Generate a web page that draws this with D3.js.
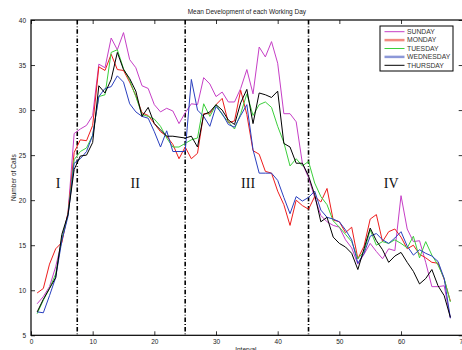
<!DOCTYPE html>
<html>
<head>
<meta charset="utf-8">
<script src="https://cdn.jsdelivr.net/npm/d3@7"></script>
<style>
  body { margin: 0; background: #fff; }
  svg text { font-family: "Liberation Sans", Arial, sans-serif; fill: #222; }
</style>
</head>
<body>
<div id="chart"></div>
<script>
// values, interval 1..68
const intervals = d3.range(1, 69);

const sunday = [8.5, 9.3, 10.4, 12.6, 15.5, 18.6, 27.4, 27.9, 28.3, 29.4, 35.1, 34.7, 38.0, 36.7, 38.6, 35.6, 34.7, 32.7, 32.4, 30.6,
  29.8, 30.2, 29.9, 28.5, 29.7, 30.7, 30.6, 33.6, 32.9, 31.5, 32.0, 30.9, 30.9, 32.4, 34.5, 31.8, 37.0, 35.9, 37.6, 35.2,
  29.6, 29.6, 28.7, 24.1, 22.5, 20.3, 18.3, 17.6, 17.2, 17.0, 15.6, 14.7, 12.9, 14.0, 15.2, 14.3, 13.5, 14.6, 14.4, 20.5,
  16.8, 15.4, 15.5, 13.1, 10.4, 10.4, 10.5, 6.9];

const monday = [9.7, 10.2, 12.9, 14.6, 15.3, 18.6, 25.3, 26.7, 26.6, 28.3, 34.8, 34.4, 36.2, 34.5, 34.4, 33.1, 31.6, 29.7, 29.4, 28.5,
  27.6, 27.1, 26.2, 24.6, 25.9, 24.6, 25.2, 29.6, 29.6, 30.6, 31.3, 28.6, 28.8, 32.2, 29.5, 25.5, 25.1, 23.2, 23.0, 21.0,
  19.5, 17.2, 20.0, 19.4, 19.0, 20.4, 19.8, 21.3, 17.8, 17.6, 16.4, 17.0, 13.5, 14.9, 17.9, 18.4, 15.4, 16.5, 16.8, 15.9,
  14.6, 15.0, 14.0, 13.6, 13.1, 13.0, 11.2, 8.8];

const tuesday = [7.4, 8.9, 10.2, 11.8, 15.7, 18.4, 24.5, 25.4, 25.8, 27.2, 31.5, 31.7, 36.4, 36.7, 34.6, 33.3, 31.5, 29.5, 29.3, 29.0,
  28.2, 26.9, 25.9, 25.9, 26.3, 26.7, 26.9, 30.7, 29.3, 30.6, 29.5, 28.7, 27.9, 29.6, 31.8, 29.4, 30.6, 30.9, 30.3, 28.2,
  26.4, 23.8, 24.6, 23.8, 24.3, 21.9, 20.4, 19.5, 17.7, 17.0, 16.2, 15.4, 13.5, 14.3, 16.7, 15.0, 15.4, 15.2, 15.6, 15.2,
  14.7, 16.0, 13.6, 15.4, 13.9, 12.8, 11.3, 8.7];

const wednesday = [7.6, 7.5, 9.4, 11.4, 15.5, 18.2, 24.1, 24.6, 25.4, 27.2, 31.5, 32.4, 32.6, 33.8, 33.1, 30.7, 29.8, 29.3, 29.1, 27.6,
  25.9, 27.7, 25.4, 25.4, 25.4, 33.4, 30.0, 29.3, 28.2, 30.4, 29.6, 28.4, 28.1, 29.4, 30.6, 25.6, 23.0, 23.0, 23.0, 22.2,
  20.3, 18.5, 20.4, 19.9, 20.3, 21.0, 18.9, 18.1, 17.9, 17.6, 16.7, 15.6, 13.0, 14.1, 16.0, 16.3, 15.6, 15.2, 15.8, 16.5,
  14.9, 13.9, 14.5, 14.1, 13.8, 13.2, 11.3, 6.9];

const thursday = [7.6, 9.0, 10.2, 11.4, 16.2, 18.4, 23.4, 24.9, 25.0, 26.4, 32.7, 31.9, 33.4, 36.4, 34.5, 33.5, 32.1, 29.3, 30.3, 28.5,
  27.8, 27.1, 27.1, 27.0, 26.9, 27.1, 25.9, 29.5, 29.8, 30.6, 30.0, 28.9, 28.4, 30.8, 32.3, 28.5, 31.9, 31.7, 31.4, 32.1,
  26.3, 25.9, 24.1, 24.1, 22.7, 20.6, 17.6, 18.1, 15.9, 15.2, 14.8, 14.1, 12.3, 14.6, 16.9, 15.5, 14.5, 13.1, 13.8, 14.2,
  13.1, 12.1, 10.7, 11.3, 12.3, 10.5, 9.4, 7.0];

const seriesNames = ['SUNDAY', 'MONDAY', 'TUESDAY', 'WEDNESDAY', 'THURSDAY'];
const seriesColors = ['#c63fc6', '#ee1c1c', '#3ccf3c', '#2a3fbf', '#000000'];
const legendColors = ['#c63fc6', '#f28a80', '#3ccf3c', '#8c98d8', '#000000'];
const legendWidths = [1, 2.5, 1, 2.5, 1];
const seriesValues = [sunday, monday, tuesday, wednesday, thursday];

const xTicks = [0, 10, 20, 30, 40, 50, 60, 70];
const yTicks = [5, 10, 15, 20, 25, 30, 35, 40];
const phaseBreaks = [7.5, 25, 45];
const phaseLabels = [{ t: 'I', x: 4.4 }, { t: 'II', x: 16.9 }, { t: 'III', x: 35.2 }, { t: 'IV', x: 58.4 }];

const width = 462, height = 350;
const margin = { top: 20, left: 31 };
const plotRight = 462.7, plotBottom = 335.3;

const svg = d3.select('#chart').append('svg')
  .attr('width', width).attr('height', height);

const x = d3.scaleLinear().domain([0, 70]).range([margin.left, plotRight]);
const y = d3.scaleLinear().domain([5, 40]).range([plotBottom, margin.top]);

// axes with inward ticks, like matlab
const tickLen = 4;
const fmt = d3.format('d');

svg.append('g')
  .attr('transform', `translate(0,${plotBottom})`)
  .call(d3.axisBottom(x).tickValues(xTicks).tickFormat(fmt).tickSizeInner(-tickLen).tickSizeOuter(0).tickPadding(4))
  .call(g => g.select('.domain').remove());

svg.append('g')
  .attr('transform', `translate(0,${margin.top})`)
  .call(d3.axisTop(x).tickValues(xTicks).tickFormat('').tickSizeInner(-tickLen).tickSizeOuter(0))
  .call(g => g.select('.domain').remove());

svg.append('g')
  .attr('transform', `translate(${margin.left},0)`)
  .call(d3.axisLeft(y).tickValues(yTicks).tickFormat(fmt).tickSizeInner(-tickLen).tickSizeOuter(0).tickPadding(5))
  .call(g => g.select('.domain').remove());

svg.append('g')
  .attr('transform', `translate(${plotRight},0)`)
  .call(d3.axisRight(y).tickValues(yTicks).tickFormat('').tickSizeInner(-tickLen).tickSizeOuter(0))
  .call(g => g.select('.domain').remove());

svg.selectAll('.tick line').attr('stroke', '#000').attr('stroke-width', 0.8);
svg.selectAll('.tick text').style('font-size', '6.5px').style('fill', '#222');

// box
svg.append('rect')
  .attr('x', margin.left).attr('y', margin.top)
  .attr('width', plotRight - margin.left).attr('height', plotBottom - margin.top)
  .attr('fill', 'none').attr('stroke', '#000').attr('stroke-width', 1.2);

// phase separators
svg.selectAll('line.phase')
  .data(phaseBreaks)
  .join('line')
  .attr('class', 'phase')
  .attr('x1', d => x(d)).attr('x2', d => x(d))
  .attr('y1', margin.top).attr('y2', plotBottom)
  .attr('stroke', '#000').attr('stroke-width', 1.6)
  .attr('stroke-dasharray', '4.5,2,0.8,2');

svg.selectAll('text.phase')
  .data(phaseLabels)
  .join('text')
  .attr('class', 'phase')
  .attr('x', d => x(d.x)).attr('y', y(21.4))
  .attr('text-anchor', 'middle')
  .style('font-family', '"Liberation Serif", "Times New Roman", serif')
  .style('font-size', '14px')
  .style('fill', '#111')
  .text(d => d.t);

// series lines
const line = d3.line()
  .x((d, i) => x(intervals[i]))
  .y(d => y(d));

svg.selectAll('path.series')
  .data(seriesValues)
  .join('path')
  .attr('class', 'series')
  .attr('d', line)
  .attr('fill', 'none')
  .attr('stroke', (d, i) => seriesColors[i])
  .attr('stroke-width', 1)
  .attr('stroke-linejoin', 'round');

// title + axis labels
svg.append('text')
  .attr('x', (margin.left + plotRight) / 2).attr('y', 14)
  .attr('text-anchor', 'middle')
  .style('font-size', '6.5px')
  .text('Mean Development of each Working Day');

svg.append('text')
  .attr('x', (margin.left + plotRight) / 2 - 1).attr('y', 352)
  .attr('text-anchor', 'middle')
  .style('font-size', '6.5px')
  .text('Interval');

svg.append('text')
  .attr('transform', `translate(16,${(margin.top + plotBottom) / 2}) rotate(-90)`)
  .attr('text-anchor', 'middle')
  .style('font-size', '6.5px')
  .text('Number of Calls');

// legend
const lg = svg.append('g').attr('transform', 'translate(380,26)');
lg.append('rect')
  .attr('width', 73).attr('height', 45)
  .attr('fill', '#fff').attr('stroke', '#000').attr('stroke-width', 1);

const item = lg.selectAll('g.item')
  .data(seriesNames)
  .join('g')
  .attr('class', 'item')
  .attr('transform', (d, i) => `translate(0,${5.7 + i * 8.4})`);

item.append('line')
  .attr('x1', 4.5).attr('x2', 24.5)
  .attr('stroke', (d, i) => legendColors[i])
  .attr('stroke-width', (d, i) => legendWidths[i]);

item.append('text')
  .attr('x', 27).attr('dy', '0.35em')
  .style('font-size', '6.8px')
  .style('fill', '#333')
  .text(d => d);
</script>
</body>
</html>
